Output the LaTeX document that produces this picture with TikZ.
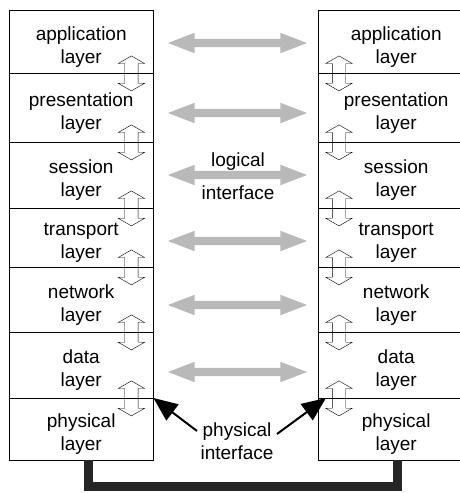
\documentclass[tikz,border=0pt]{standalone}
\usepackage{fontspec}
\setmainfont{Liberation Sans}
\usepackage{tikz}
\usetikzlibrary{arrows.meta}
\usetikzlibrary{shapes.arrows}

\begin{document}
\begin{tikzpicture}[x=1pt,y=-1pt,
			every node/.style={font=\fontsize{19}{23}\selectfont},
			cell/.style={draw,anchor=north west,inner sep=0pt},
			updown/.style={double arrow,draw,rotate=90,inner sep=0pt,minimum height=35pt,minimum width=26pt,
				double arrow head extend=6.5pt,double arrow tip angle=120},
			logic/.style={double arrow,fill=gray!55,inner sep=0pt,minimum height=139pt,minimum width=20pt,
				double arrow head extend=6pt,double arrow tip angle=42},
			pointer/.style={-{Triangle[length=24pt,width=20pt]},line width=2pt},
			cable/.style={line width=9pt,draw=black!85}]
			\useasboundingbox (0,0) rectangle (460,493);
			\clip (0,0) rectangle (460,493);
			
			% the two stacks
			\foreach \n/\a/\b/\t in {1/10/73/application,2/73/142/presentation,3/142/208/session,
				4/208/267/transport,5/267/332/network,6/332/398/data,7/398/460/physical}{
				\node[cell,minimum width=144pt,minimum height=(\b-\a)*1pt] (L\n) at (9,\a) {};
				\node[align=center] (tL\n) at ([yshift=-5pt]L\n.center) {\t\\layer};
				\node[cell,minimum width=156pt,minimum height=(\b-\a)*1pt] (R\n) at (318,\a) {};
				\node[align=center] (tR\n) at ([yshift=-5pt]R\n.center) {\t\\layer};
			}
			\foreach \n in {1,...,6}{
				\node[updown] (uL\n) at ([xshift=-22pt]L\n.south east) {\rule{0pt}{13pt}};
				\node[updown] (uR\n) at ([xshift=21pt]R\n.south west) {\rule{0pt}{13pt}};
			}
			
			% peer to peer
			\foreach \n/\y in {1/43,2/113,3/175,4/241,5/305,6/372}
				\node[logic] (g\n) at (237.5,\y) {\rule{0pt}{8pt}};
			\node[align=center] (logi) at (238,176) {logical\\[10pt]interface};
			
			\node[align=center] (phys) at (237,441) {physical\\interface};
			\draw[pointer] ([yshift=10pt]phys.west) -- (L7.north east);
			\draw[pointer] ([yshift=7pt]phys.east) -- ([xshift=8pt]R7.north west);
			
			\draw[cable] ([xshift=7pt]L7.south) -- ++(0,26) -| ([xshift=1pt]R7.south);
		\end{tikzpicture}
\end{document}
